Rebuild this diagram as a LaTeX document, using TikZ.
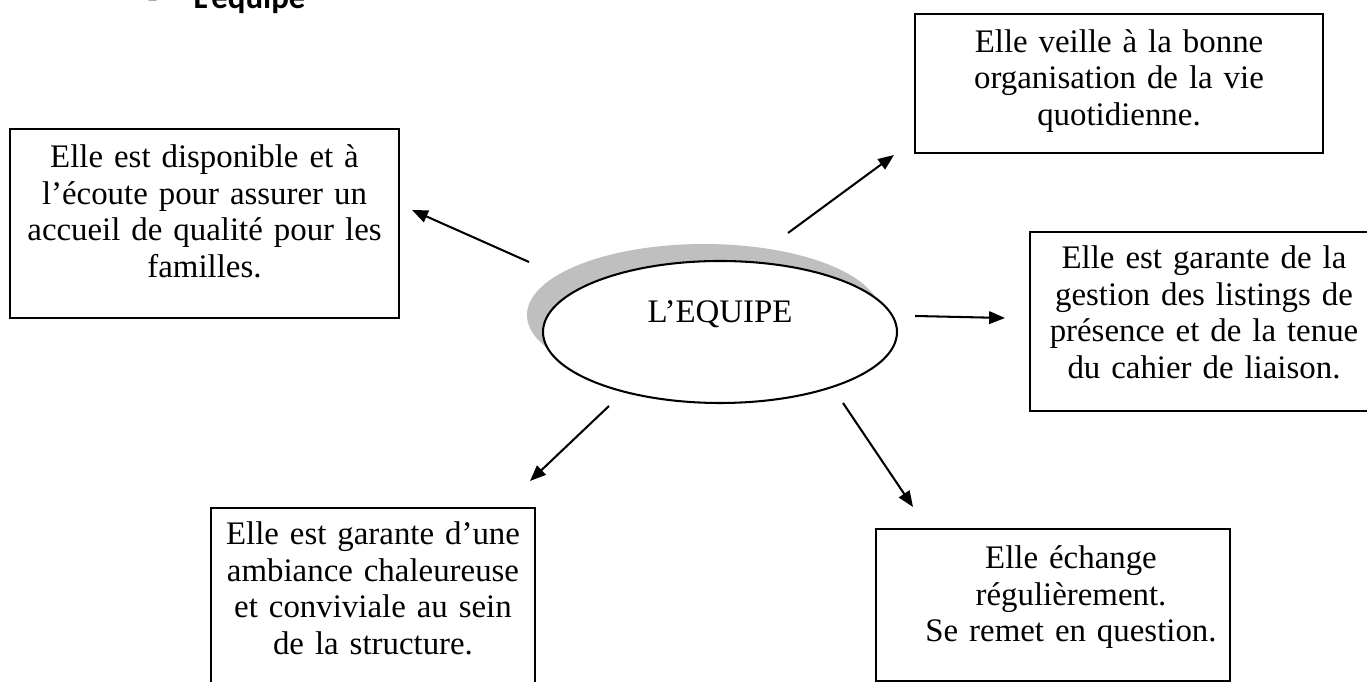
\documentclass[tikz,border=0pt]{standalone}
\usepackage{fontspec}
\setmainfont{Liberation Serif}
\newfontfamily\titrefont{Carlito}
\usetikzlibrary{arrows.meta,calc,shapes.geometric,shadows}

\begin{document}
\begin{tikzpicture}[x=0.365pt, y=-0.365pt, >={Triangle[length=5.8pt,width=4.6pt]},
	every node/.style={font=\fontsize{12}{13.28}\selectfont},
	boite/.style={draw, line width=0.75pt, inner sep=0pt},
	texte/.style={align=center, inner sep=0pt, anchor=base,
		execute at begin node={\setlength{\baselineskip}{13.28pt}}},
	fleche/.style={->, line width=0.75pt}]
	
	% parameters
	\def\u{0.365pt}        % one pixel of the page
	
	% page (the title and two boxes are cut by it)
	\useasboundingbox (0,0) rectangle (1367,682);
	\clip (0,0) rectangle (1367,682);
	
	% title
	\node[anchor=base west, inner sep=0pt, font=\titrefont\bfseries\fontsize{12}{14}\selectfont] (tiret) at (147,9) {-};
	\node[anchor=base west, inner sep=0pt, font=\titrefont\bfseries\fontsize{12}{14}\selectfont] (titre) at (193,9) {L’équipe};
	
	% centre with its grey shadow
	\node[ellipse, draw, line width=0.75pt, fill=white, inner sep=0pt,
		minimum width=354*\u, minimum height=142*\u, text height=8pt, text depth=14.6pt,
		general shadow={fill=black!25, shadow xshift=-5.84pt, shadow yshift=6.2pt}] (equipe) at (720,332) {L’EQUIPE};
	
	% boxes
	\node[boite, minimum width=389*\u, minimum height=189*\u] (gauche) at (204.5,223.5) {};
	\node[boite, minimum width=408*\u, minimum height=139*\u] (haut) at (1119,83.5) {};
	\node[boite, minimum width=348*\u, minimum height=179*\u] (droite) at (1204,321.5) {};
	\node[boite, minimum width=324*\u, minimum height=192*\u] (basg) at (373,604) {};
	\node[boite, minimum width=354*\u, minimum height=152*\u] (basd) at (1053,605) {};
	
	% texts
	\node[texte, text width=389*\u] (tgauche) at ($(gauche.north)+(0,40)$)
	{Elle est disponible et à\\ l’écoute pour assurer un\\ accueil de qualité pour les\\ familles.};
	\node[texte, text width=408*\u] (thaut) at ($(haut.north)+(0,39.3)$)
	{Elle veille à la bonne\\ organisation de la vie\\ quotidienne.};
	\node[texte, text width=348*\u] (tdroite) at ($(droite.north)+(0,38)$)
	{Elle est garante de la\\ gestion des listings de\\ présence et de la tenue\\ du cahier de liaison.};
	\node[texte, text width=324*\u] (tbasg) at ($(basg.north)+(0,38)$)
	{Elle est garante d’une\\ ambiance chaleureuse\\ et conviviale au sein\\ de la structure.};
	\node[texte, text width=300*\u] (tbasd) at ($(basd.north)+(18,41)$)
	{Elle échange\\ régulièrement.\\ Se remet en question.};
	
	% arrows
	\coordinate (g0) at (529,262);   \coordinate (g1) at (412,210);
	\coordinate (h0) at (788,233);   \coordinate (h1) at (894,155);
	\coordinate (d0) at (915,316);   \coordinate (d1) at (1005,318);
	\coordinate (bg0) at (609,406);  \coordinate (bg1) at (530,481);
	\coordinate (bd0) at (843,403);  \coordinate (bd1) at (913,507);
	
	\draw[fleche] (g0) -- (g1);
	\draw[fleche] (h0) -- (h1);
	\draw[fleche] (d0) -- (d1);
	\draw[fleche] (bg0) -- (bg1);
	\draw[fleche] (bd0) -- (bd1);
\end{tikzpicture}
\end{document}
